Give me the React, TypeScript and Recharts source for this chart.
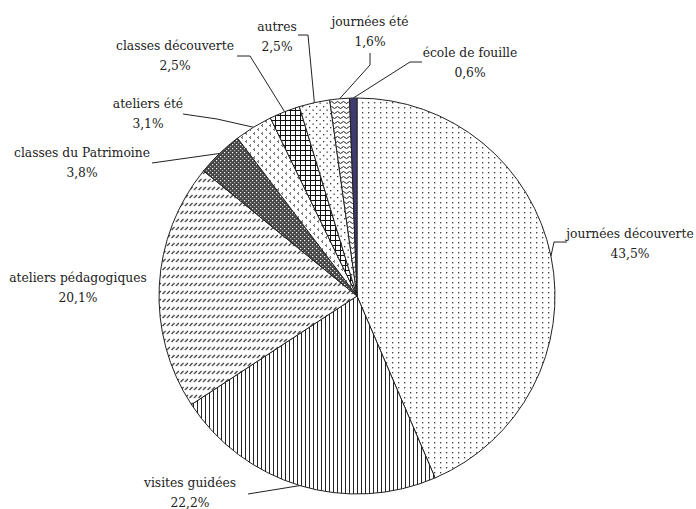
import React from 'react';
import { PieChart, Pie, Cell } from 'recharts';

const categories = [
  'journées découverte',
  'visites guidées',
  'ateliers pédagogiques',
  'classes du Patrimoine',
  'ateliers été',
  'classes découverte',
  'autres',
  'journées été',
  'école de fouille',
];
const shares = [43.5, 22.2, 20.1, 3.8, 3.1, 2.5, 2.5, 1.6, 0.6];
const shareLabels = ['43,5%', '22,2%', '20,1%', '3,8%', '3,1%', '2,5%', '2,5%', '1,6%', '0,6%'];

const data = categories.map((name, i) => ({ name, value: shares[i], pct: shareLabels[i] }));

// where each label sits and how its leader line bends (chart pixels)
const LABEL_LAYOUT: { x: number; y: number; line: number[][] }[] = [
  { x: 630, y: 233, line: [[567, 242], [554, 242]] },
  { x: 190, y: 482, line: [[248, 494]] },
  { x: 78, y: 277, line: [] },
  { x: 82, y: 152, line: [[152, 163]] },
  { x: 148, y: 103, line: [[183, 114], [217, 119]] },
  { x: 175, y: 45, line: [[237, 56], [250, 56]] },
  { x: 277, y: 26, line: [[298, 35], [308, 35]] },
  { x: 370, y: 21, line: [[370, 53], [370, 65]] },
  { x: 470, y: 52, line: [[422, 62], [410, 62]] },
];

const RADIAN = Math.PI / 180;
const FONT = 'DejaVu Serif';

const SliceLabel = (props: any) => {
  const { cx, cy, midAngle, outerRadius, index } = props;
  const lay = LABEL_LAYOUT[index];
  const d = data[index];
  const ex = cx + outerRadius * Math.cos(-midAngle * RADIAN);
  const ey = cy + outerRadius * Math.sin(-midAngle * RADIAN);
  const pts = lay.line.length ? [...lay.line, [ex, ey]].map(p => p.join(',')).join(' ') : '';
  return (
    <g key={`lbl-${index}`}>
      {pts && <polyline points={pts} fill="none" stroke="#222" strokeWidth={1} />}
      <text x={lay.x} y={lay.y + 4.5} textAnchor="middle" fontFamily={FONT} fontSize={12.3} fill="#222">
        <tspan x={lay.x}>{d.name}</tspan>
        <tspan x={lay.x} dy={20}>{d.pct}</tspan>
      </text>
    </g>
  );
};

export default function App() {
  return (
    <div style={{ position: 'absolute', left: 0, top: 0, background: '#fff' }}>
      <PieChart width={696} height={509} margin={{ top: 0, right: 0, bottom: 0, left: 0 }}>
        <defs>
          <pattern id="p0" width="6" height="5" patternUnits="userSpaceOnUse">
            <rect width="6" height="5" fill="#fff" />
            <rect x="2" y="2" width="1.3" height="1.4" fill="#444" />
          </pattern>
          <pattern id="p1" width="4" height="4" patternUnits="userSpaceOnUse">
            <rect width="4" height="4" fill="#fff" />
            <line x1="1.5" y1="0" x2="1.5" y2="4" stroke="#222" strokeWidth="1" />
          </pattern>
          <pattern id="p2" width="4.5" height="8" patternUnits="userSpaceOnUse">
            <rect width="4.5" height="8" fill="#fff" />
            <line x1="0.5" y1="6" x2="3.5" y2="3" stroke="#333" strokeWidth="1.1" />
          </pattern>
          <pattern id="p3" width="4" height="4" patternUnits="userSpaceOnUse">
            <rect width="4" height="4" fill="#444" />
            <rect x="0" y="0" width="1.2" height="1.2" fill="#fff" />
            <rect x="2" y="2" width="1.2" height="1.2" fill="#bbb" />
          </pattern>
          <pattern id="p4" width="8" height="8" patternUnits="userSpaceOnUse">
            <rect width="8" height="8" fill="#fff" />
            <path d="M3,0.5 L1.5,1.5 L3,2.5" fill="none" stroke="#333" strokeWidth="1" />
            <path d="M7,4.5 L5.5,5.5 L7,6.5" fill="none" stroke="#333" strokeWidth="1" />
          </pattern>
          <pattern id="p5" width="5" height="5" patternUnits="userSpaceOnUse">
            <rect width="5" height="5" fill="#fff" />
            <path d="M0,0.5 H5 M0.5,0 V5" stroke="#111" strokeWidth="1" />
          </pattern>
          <pattern id="p6" width="7" height="7" patternUnits="userSpaceOnUse">
            <rect width="7" height="7" fill="#fff" />
            <rect x="1" y="1" width="1.3" height="1.3" fill="#333" />
            <rect x="4.5" y="4.5" width="1.3" height="1.3" fill="#333" />
          </pattern>
          <pattern id="p7" width="6" height="5" patternUnits="userSpaceOnUse">
            <rect width="6" height="5" fill="#fff" />
            <path d="M0,2.5 Q1.5,0.5 3,2.5 T6,2.5" fill="none" stroke="#222" strokeWidth="1" />
          </pattern>
        </defs>
        <Pie
          data={data}
          dataKey="value"
          nameKey="name"
          cx={357}
          cy={296}
          outerRadius={198}
          startAngle={90}
          endAngle={-270}
          stroke="#222"
          strokeWidth={1}
          label={SliceLabel}
          labelLine={false}
          isAnimationActive={false}
        >
          {data.map((d, i) => (
            <Cell key={d.name} fill={i === 8 ? '#3f3a70' : `url(#p${i})`} />
          ))}
        </Pie>
      </PieChart>
    </div>
  );
}
